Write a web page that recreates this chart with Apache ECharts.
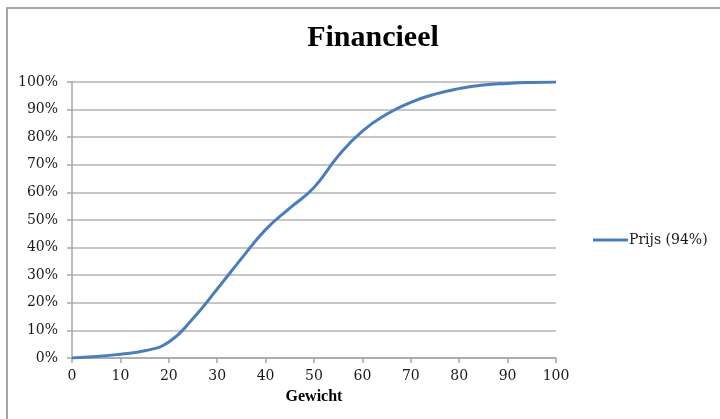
<!DOCTYPE html>
<html>
<head>
<meta charset="utf-8">
<script src="https://cdn.jsdelivr.net/npm/echarts@6/dist/echarts.min.js"></script>
<style>
  html, body { margin: 0; padding: 0; background: #ffffff; }
  #chart { width: 720px; height: 419px; }
</style>
</head>
<body>
<div id="chart"></div>
<script>
// Weight (x) against cumulative share (y, percent)
const gewicht = [0, 5, 10, 15, 20, 25, 30, 35, 40, 45, 50, 55, 60, 65, 70, 75, 80, 85, 90, 95, 100];
const prijs = [0, 0.5, 1.4, 2.6, 5.8, 14.3, 25, 36, 46.5, 54.3, 61.8, 73.2, 82.2, 88.3, 92.6, 95.6, 97.6, 98.9, 99.5, 99.85, 100];
const xTicks = [0, 10, 20, 30, 40, 50, 60, 70, 80, 90, 100];
const yTicks = [0, 10, 20, 30, 40, 50, 60, 70, 80, 90, 100];
const seriesName = 'Prijs (94%)';
const titleText = 'Financieel';
const xAxisName = 'Gewicht';

const chart = echarts.init(document.getElementById('chart'), null, { renderer: 'canvas' });

const labelFont = { fontFamily: 'DejaVu Serif', fontSize: 14, color: '#1a1a1a' };

chart.setOption({
  animation: false,
  backgroundColor: '#ffffff',
  title: {
    text: titleText,
    left: 368,
    textAlign: 'center',
    top: 18,
    textStyle: { fontFamily: 'Liberation Serif', fontWeight: 'bold', fontSize: 30, color: '#000000' }
  },
  graphic: [{
    type: 'polyline',
    shape: { points: [[7, 419], [7, 8], [720, 8]] },
    style: { stroke: '#a6a6a6', lineWidth: 2, fill: null },
    silent: true
  }],
  legend: {
    left: 588,
    top: 228,
    orient: 'vertical',
    itemWidth: 35,
    itemHeight: 3,
    itemGap: 4,
    icon: 'rect',
    textStyle: Object.assign({}, labelFont, { padding: [0, 0, 0, -4] }),
    data: [seriesName]
  },
  grid: { left: 72, right: 164, top: 82, bottom: 61, containLabel: false },
  xAxis: {
    type: 'value',
    min: 0, max: 100, interval: 10,
    name: xAxisName,
    nameLocation: 'middle',
    nameGap: 31,
    nameTextStyle: { fontFamily: 'Liberation Serif', fontWeight: 'bold', fontSize: 16, color: '#000000' },
    axisLine: { show: true, lineStyle: { color: '#a6a6a6', width: 1.5 } },
    axisTick: { show: true, length: 5, lineStyle: { color: '#a6a6a6', width: 1.5 } },
    axisLabel: Object.assign({}, labelFont, { margin: 11, formatter: v => xTicks.includes(v) ? String(v) : '' }),
    splitLine: { show: false }
  },
  yAxis: {
    type: 'value',
    min: 0, max: 100, interval: 10,
    axisLine: { show: true, lineStyle: { color: '#a6a6a6', width: 1.5 } },
    axisTick: { show: true, length: 5, lineStyle: { color: '#a6a6a6', width: 1.5 } },
    axisLabel: Object.assign({}, labelFont, { margin: 14, formatter: v => yTicks.includes(v) ? v + '%' : '' }),
    splitLine: { show: true, lineStyle: { color: '#b3b3b3', width: 1.5 } }
  },
  series: [{
    name: seriesName,
    type: 'line',
    data: gewicht.map((g, i) => [g, prijs[i]]),
    smooth: 0.5,
    showSymbol: false,
    lineStyle: { color: '#4a7ebb', width: 3 },
    itemStyle: { color: '#4a7ebb' }
  }]
});
</script>
</body>
</html>
